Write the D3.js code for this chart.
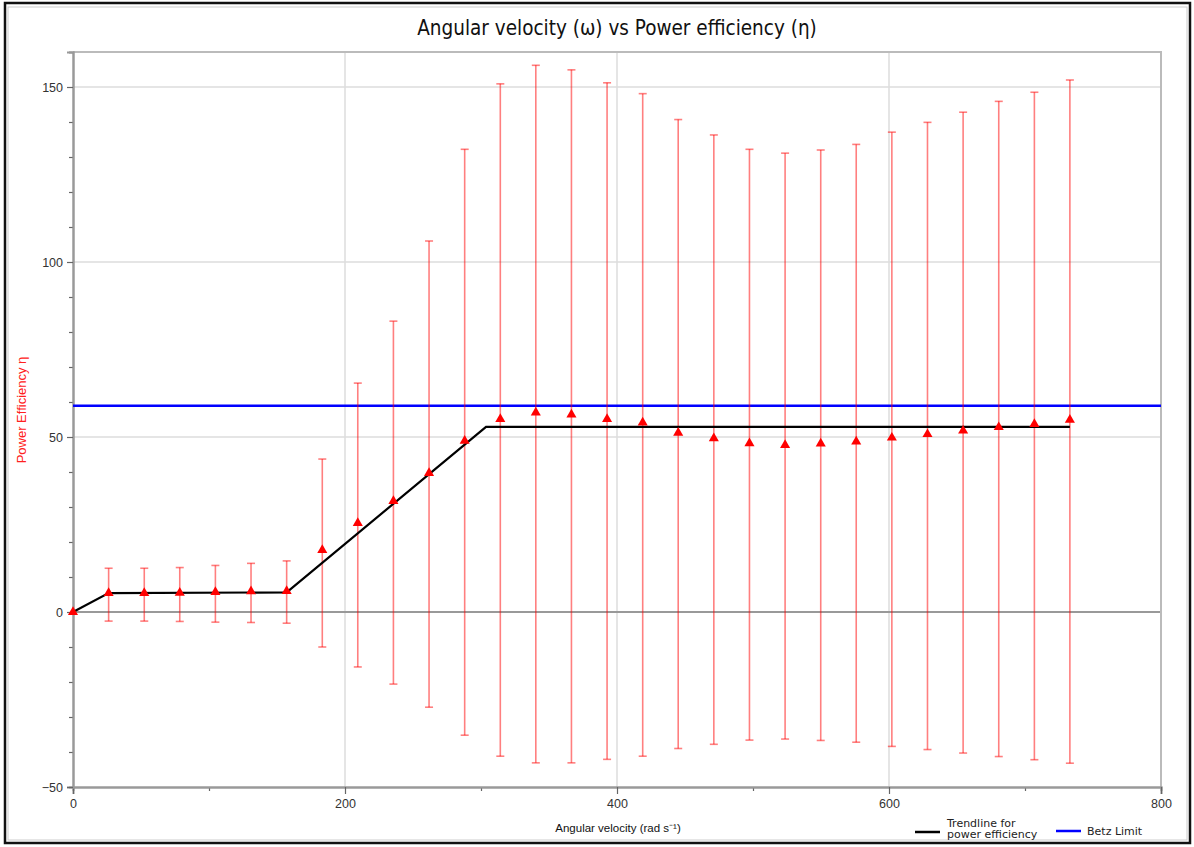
<!DOCTYPE html>
<html>
<head>
<meta charset="utf-8">
<script src="https://cdn.jsdelivr.net/npm/d3@7"></script>
<style>
  body { margin: 0; background: #fff; }
  text { font-family: "DejaVu Sans", sans-serif; }
</style>
</head>
<body>
<div id="wrapper"></div>
<script>
// angular velocity (rad/s), steps of 250 rpm
const omega = [0, 26.2, 52.4, 78.5, 104.7, 130.9, 157.1, 183.3, 209.4, 235.6, 261.8, 288.0, 314.2, 340.3,
    366.5, 392.7, 418.9, 445.0, 471.2, 497.4, 523.6, 549.8, 575.9, 602.1, 628.3, 654.5, 680.7, 706.9, 733.0];
const eta = [0, 5.4, 5.4, 5.5, 5.7, 5.9, 6.0, 17.7, 25.4, 31.7, 39.7, 48.9, 55.1, 57.0,
    56.4, 55.1, 54.1, 51.2, 49.6, 48.2, 47.7, 48.1, 48.7, 49.8, 50.8, 51.8, 52.8, 53.7, 54.9];
const etaHigh = [0, 12.5, 12.5, 12.7, 13.3, 13.9, 14.6, 43.7, 65.4, 83.1, 106.0, 132.2, 150.9, 156.2,
    154.9, 151.2, 148.1, 140.7, 136.3, 132.2, 131.1, 132.0, 133.6, 137.1, 139.9, 142.8, 145.9, 148.5, 152.0];
const etaLow = [0, -2.6, -2.6, -2.7, -2.9, -3.0, -3.2, -10.0, -15.7, -20.6, -27.2, -35.2, -41.2, -43.1,
    -43.1, -42.1, -41.2, -39.0, -37.8, -36.6, -36.3, -36.7, -37.2, -38.4, -39.3, -40.3, -41.3, -42.2, -43.2];
// piecewise trendline
const trendX = [0, 26.2, 157.1, 303.7, 733.0];
const trendY = [0, 5.4, 5.6, 52.9, 52.9];
const betzLimit = 58.9;

const xTicks = [0, 200, 400, 600, 800];
const yTicks = [-50, 0, 50, 100, 150];

const points = omega.map((w, i) => ({ w: w, e: eta[i], hi: etaHigh[i], lo: etaLow[i] }));
const trend = trendX.map((x, i) => ({ x: x, y: trendY[i] }));

var dimension = {
    width: 1194,
    height: 847,
    margin: { top: 52, left: 73, bottom: 60, right: 33 }
};
dimension.boundedWidth = dimension.width - dimension.margin.left - dimension.margin.right;
dimension.boundedHeight = dimension.height - dimension.margin.top - dimension.margin.bottom;

const svg = d3.select("#wrapper").append("svg")
    .attr("width", dimension.width)
    .attr("height", dimension.height);

// outer frame
svg.append("rect").attr("x", 5).attr("y", 3).attr("width", 1185).attr("height", 840)
    .attr("fill", "none").attr("stroke", "#111").attr("stroke-width", 2.5);
svg.append("rect").attr("x", 8).attr("y", 7).attr("width", 1179).attr("height", 833)
    .attr("fill", "none").attr("stroke", "#ccc").attr("stroke-width", 1);

const bounded = svg.append("g")
    .attr("transform", `translate(${dimension.margin.left}, ${dimension.margin.top})`);

const xScaler = d3.scaleLinear().domain([0, 800]).range([0, dimension.boundedWidth]);
const yScaler = d3.scaleLinear().domain([-50, 160]).range([dimension.boundedHeight, 0]);

// grid
bounded.append("g").selectAll("line").data(xTicks.slice(1, -1)).join("line")
    .attr("x1", d => xScaler(d)).attr("x2", d => xScaler(d))
    .attr("y1", 0).attr("y2", dimension.boundedHeight)
    .attr("stroke", "#ddd").attr("stroke-width", 1.5);
bounded.append("g").selectAll("line").data([50, 100, 150]).join("line")
    .attr("x1", 0).attr("x2", dimension.boundedWidth)
    .attr("y1", d => yScaler(d)).attr("y2", d => yScaler(d))
    .attr("stroke", "#ddd").attr("stroke-width", 1.5);
// zero line
bounded.append("line")
    .attr("x1", 0).attr("x2", dimension.boundedWidth)
    .attr("y1", yScaler(0)).attr("y2", yScaler(0))
    .attr("stroke", "#999").attr("stroke-width", 2);

// plot border (top / right)
bounded.append("path")
    .attr("d", `M0,0H${dimension.boundedWidth}V${dimension.boundedHeight}`)
    .attr("fill", "none").attr("stroke", "#bbb").attr("stroke-width", 2);

// axes
const xAxis = d3.axisBottom(xScaler).tickValues(xTicks).tickSize(7).tickPadding(5);
const xMinor = d3.axisBottom(xScaler).tickValues([100, 300, 500, 700]).tickSize(4).tickFormat("");
const yAxis = d3.axisLeft(yScaler).tickValues(yTicks).tickSize(6).tickPadding(4);
const yMinor = d3.axisLeft(yScaler).tickValues(d3.range(-40, 161, 10).filter(v => v % 50 !== 0)).tickSize(4).tickFormat("");

function styleAxis(g) {
    g.select(".domain").attr("stroke", "#999").attr("stroke-width", 2);
    g.selectAll(".tick line").attr("stroke", "#666").attr("stroke-width", 1.2);
    g.selectAll(".tick text").attr("fill", "#333")
        .style("font-size", "12.5px")
        .style("font-family", "'Liberation Sans', Arial, sans-serif");
}

bounded.append("g").attr("transform", `translate(0, ${dimension.boundedHeight})`).call(xMinor).call(styleAxis);
bounded.append("g").attr("transform", `translate(0, ${dimension.boundedHeight})`).call(xAxis).call(styleAxis);
bounded.append("g").call(yMinor).call(styleAxis);
bounded.append("g").call(yAxis).call(styleAxis);

// Betz limit
bounded.append("line")
    .attr("x1", 0).attr("x2", dimension.boundedWidth)
    .attr("y1", yScaler(betzLimit)).attr("y2", yScaler(betzLimit))
    .attr("stroke", "#0000ff").attr("stroke-width", 2.5);

// error bars
const errG = bounded.append("g").attr("stroke", "#ff0000").attr("stroke-opacity", 0.5).attr("stroke-width", 1.6);
const errPts = points.slice(1);
errG.selectAll("line.bar").data(errPts).join("line").attr("class", "bar")
    .attr("x1", d => xScaler(d.w)).attr("x2", d => xScaler(d.w))
    .attr("y1", d => yScaler(d.hi)).attr("y2", d => yScaler(d.lo));
errG.selectAll("line.top").data(errPts).join("line").attr("class", "top")
    .attr("x1", d => xScaler(d.w) - 4).attr("x2", d => xScaler(d.w) + 4)
    .attr("y1", d => yScaler(d.hi)).attr("y2", d => yScaler(d.hi));
errG.selectAll("line.bot").data(errPts).join("line").attr("class", "bot")
    .attr("x1", d => xScaler(d.w) - 4).attr("x2", d => xScaler(d.w) + 4)
    .attr("y1", d => yScaler(d.lo)).attr("y2", d => yScaler(d.lo));

// trendline
const trendLine = d3.line().x(d => xScaler(d.x)).y(d => yScaler(d.y));
bounded.append("path")
    .attr("d", trendLine(trend))
    .attr("fill", "none").attr("stroke", "#000").attr("stroke-width", 2.2);

// markers
const tri = d3.symbol().type(d3.symbolTriangle).size(44);
bounded.append("g").selectAll("path").data(points).join("path")
    .attr("d", tri)
    .attr("transform", d => `translate(${xScaler(d.w)}, ${yScaler(d.e)})`)
    .attr("fill", "#ff0000");

// title
svg.append("text")
    .attr("x", 617).attr("y", 35)
    .attr("text-anchor", "middle")
    .style("font-size", "20.5px")
    .style("font-family", "'DejaVu Sans Condensed', 'DejaVu Sans', sans-serif")
    .attr("fill", "#111")
    .text("Angular velocity (ω) vs Power efficiency (η)");

// axis labels
svg.append("text")
    .attr("x", 618).attr("y", 832)
    .attr("text-anchor", "middle")
    .style("font-size", "11.5px")
    .style("font-family", "'Liberation Sans', Arial, sans-serif")
    .attr("fill", "#111")
    .text("Angular velocity (rad s⁻¹)");

svg.append("text")
    .attr("transform", "translate(26, 410) rotate(-90)")
    .attr("text-anchor", "middle")
    .style("font-size", "13px")
    .style("font-family", "'Liberation Sans', Arial, sans-serif")
    .attr("fill", "#ff2020")
    .text("Power Efficiency η");

// legend
const legend = svg.append("g").attr("transform", "translate(915, 832)");
legend.append("line").attr("x1", 0).attr("x2", 25).attr("y1", 0).attr("y2", 0)
    .attr("stroke", "#000").attr("stroke-width", 2.5);
legend.append("text").attr("x", 32).attr("y", -5).style("font-size", "11px").attr("fill", "#222").text("Trendline for");
legend.append("text").attr("x", 32).attr("y", 6).style("font-size", "11px").attr("fill", "#222").text("power efficiency");
legend.append("line").attr("x1", 141).attr("x2", 166).attr("y1", -1).attr("y2", -1)
    .attr("stroke", "#0000ff").attr("stroke-width", 2.5);
legend.append("text").attr("x", 172).attr("y", 3).style("font-size", "11px").attr("fill", "#222").text("Betz Limit");
</script>
</body>
</html>
